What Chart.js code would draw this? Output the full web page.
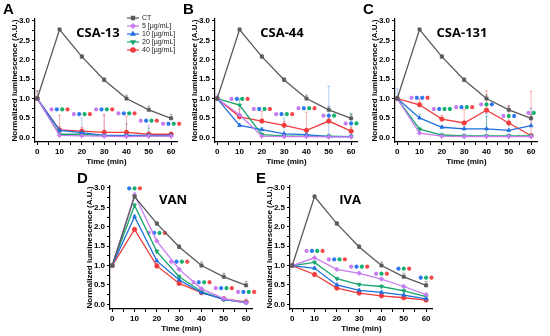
<!DOCTYPE html>
<html>
<head>
<meta charset="utf-8">
<script src="https://cdn.jsdelivr.net/npm/chart.js@4.4.0/dist/chart.umd.min.js"></script>
<style>
  body { margin: 0; width: 550px; height: 336px; background: #fff; position: relative; overflow: hidden; }
  canvas { position: absolute; }
</style>
</head>
<body>
<canvas id="pA" width="183" height="168" style="left:0px;top:0px;width:183px;height:168px"></canvas>
<canvas id="pB" width="183" height="168" style="left:180px;top:0px;width:183px;height:168px"></canvas>
<canvas id="pC" width="183" height="168" style="left:360px;top:0px;width:183px;height:168px"></canvas>
<canvas id="pD" width="183" height="168" style="left:75px;top:167px;width:183px;height:168px"></canvas>
<canvas id="pE" width="183" height="168" style="left:255px;top:167px;width:183px;height:168px"></canvas>
<script>
// Data
const times = [0, 10, 20, 30, 40, 50, 60];
const seriesLabels = ["CT", "5 [µg/mL]", "10 [µg/mL]", "20 [µg/mL]", "40 [µg/mL]"];
const xTicks = [0, 10, 20, 30, 40, 50, 60];
const yTicks = [0, 0.5, 1.0, 1.5, 2.0, 2.5, 3.0];

const ctValues = [1.0, 2.78, 2.08, 1.48, 1.0, 0.71, 0.49];
const ctErr    = [0.04, 0.03, 0.05, 0.06, 0.09, 0.09, 0.1];

// A: CSA-13
const csa13_5  = [1.0, 0.05, 0.04, 0.03, 0.02, 0.03, 0.03];
const csa13_10 = [1.0, 0.18, 0.12, 0.05, 0.05, 0.05, 0.05];
const csa13_20 = [1.0, 0.08, 0.08, 0.04, 0.04, 0.04, 0.04];
const csa13_40 = [1.0, 0.19, 0.16, 0.13, 0.13, 0.08, 0.08];
const csa13_5e  = [0.05, 0.05, 0.05, 0.55, 0.05, 0.28, 0.08];
const csa13_10e = [0.2, 0.1, 0.38, 0.1, 0.3, 0.05, 0.05];
const csa13_20e = [0.05, 0.05, 0.05, 0.05, 0.05, 0.2, 0.05];
const csa13_40e = [0.2, 0.38, 0.1, 0.45, 0.42, 0.05, 0.05];

// B: CSA-44
const csa44_5  = [1.0, 0.58, 0.03, 0.02, 0.02, 0.01, 0.01];
const csa44_10 = [1.0, 0.31, 0.2, 0.09, 0.07, 0.02, 0.02];
const csa44_20 = [1.0, 0.83, 0.07, 0.04, 0.03, 0.03, 0.02];
const csa44_40 = [1.0, 0.53, 0.42, 0.31, 0.18, 0.42, 0.16];
const csa44_5e  = [0.05, 0.15, 0.05, 0.05, 0.05, 0.05, 0.05];
const csa44_10e = [0.1, 0.05, 0.05, 0.4, 0.05, 1.3, 0.05];
const csa44_20e = [0.05, 0.15, 0.05, 0.05, 0.05, 0.05, 0.6];
const csa44_40e = [0.05, 0.2, 0.25, 0.1, 0.47, 0.15, 0.1];

// C: CSA-131
const csa131_5  = [1.0, 0.11, 0.03, 0.02, 0.02, 0.02, 0.02];
const csa131_10 = [1.0, 0.5, 0.26, 0.22, 0.22, 0.18, 0.3];
const csa131_20 = [1.0, 0.21, 0.06, 0.04, 0.04, 0.04, 0.04];
const csa131_40 = [1.0, 0.84, 0.47, 0.37, 0.7, 0.37, 0.04];
const csa131_5e  = [0.05, 0.05, 0.05, 0.05, 0.05, 0.05, 0.05];
const csa131_10e = [0.25, 0.1, 0.05, 0.05, 0.4, 0.2, 0.45];
const csa131_20e = [0.05, 0.05, 0.05, 0.05, 0.5, 0.05, 0.05];
const csa131_40e = [0.05, 0.15, 0.1, 0.35, 0.5, 0.45, 1.15];

// D: VAN
const van_5  = [1.0, 2.82, 1.63, 0.9, 0.4, 0.15, 0.04];
const van_10 = [1.0, 2.26, 1.12, 0.63, 0.3, 0.13, 0.04];
const van_20 = [1.0, 2.55, 1.36, 0.71, 0.33, 0.12, 0.05];
const van_40 = [1.0, 1.93, 0.99, 0.54, 0.3, 0.14, 0.06];
const van_5e  = [0.03, 0.06, 0.05, 0.05, 0.05, 0.05, 0.12];
const van_10e = [0.03, 0.05, 0.05, 0.05, 0.05, 0.05, 0.05];
const van_20e = [0.03, 0.05, 0.05, 0.05, 0.05, 0.05, 0.05];
const van_40e = [0.03, 0.05, 0.05, 0.05, 0.05, 0.05, 0.05];

// E: IVA
const iva_5  = [1.0, 1.2, 0.9, 0.8, 0.65, 0.46, 0.25];
const iva_10 = [1.0, 0.93, 0.5, 0.36, 0.31, 0.24, 0.14];
const iva_20 = [1.0, 1.08, 0.66, 0.51, 0.46, 0.35, 0.2];
const iva_40 = [1.0, 0.77, 0.42, 0.29, 0.22, 0.17, 0.11];
const iva_5e  = [0.03, 0.04, 0.04, 0.04, 0.04, 0.04, 0.04];
const iva_10e = [0.03, 0.04, 0.04, 0.04, 0.04, 0.04, 0.04];
const iva_20e = [0.03, 0.04, 0.04, 0.04, 0.04, 0.04, 0.04];
const iva_40e = [0.03, 0.04, 0.04, 0.04, 0.04, 0.04, 0.04];

// significance stars: [time, level, colours]
const starsA = [[10, 0.72, "vbgr"], [20, 0.6, "vbgr"], [30, 0.72, "vbgr"], [40, 0.62, "vbgr"], [50, 0.43, "vbgr"], [60, 0.35, "vbgr"]];
const starsB = [[10, 0.99, "vbgr"], [20, 0.73, "vbgr"], [30, 0.6, "vbgr"], [40, 0.75, "vbgr"], [50, 0.56, "vbg"], [60, 0.36, "vbg"]];
const starsC = [[10, 1.02, "vbbr"], [20, 0.73, "vbgg"], [30, 0.78, "vbgr"], [40, 0.85, "vgb"], [50, 0.55, "vgb"], [60, 0.63, "vg"]];
const starsD = [[10, 2.99, "bgr"], [20, 1.84, "vbgr"], [30, 1.1, "vbgr"], [40, 0.57, "vbgr"], [50, 0.42, "vbgr"], [60, 0.32, "vbgr"]];
const starsE = [[10, 1.38, "vbgr"], [20, 1.16, "vbgr"], [30, 0.97, "vbgr"], [40, 0.79, "vgr"], [50, 0.92, "bgr"], [60, 0.69, "bgr"]];

// Styles
const colors = ["#5a5a5a", "#c87cf0", "#1f6fe0", "#17a56c", "#f03c3c"];
const errColors = ["rgba(90,90,90,0.5)", "rgba(200,124,240,0.45)", "rgba(31,111,224,0.35)", "rgba(23,165,108,0.45)", "rgba(240,60,60,0.4)"];
const markers = ["rect", "rectRot", "triangle", "triangle", "circle"];
const rotations = [0, 0, 0, 180, 0];
const starColors = { v: "#c77cf2", b: "#2d78ee", g: "#13b070", r: "#f2474b" };
const FONT = "'Liberation Sans', Arial, sans-serif";

const panelPlugin = {
    id: 'panelText',
    beforeDatasetsDraw(chart) {
        const ctx = chart.ctx;
        const xs = chart.scales.x, ys = chart.scales.y;
        ctx.save();
        chart.data.datasets.forEach(ds => {
            if (!ds.errBars) return;
            ctx.strokeStyle = ds.errColor;
            ctx.lineWidth = 1;
            ds.data.forEach((p, i) => {
                const px = xs.getPixelForValue(p.x);
                const y0 = ys.getPixelForValue(p.y);
                const y1 = ys.getPixelForValue(p.y + ds.errBars[i]);
                ctx.beginPath();
                ctx.moveTo(px, y0); ctx.lineTo(px, y1);
                ctx.moveTo(px - 1.5, y1); ctx.lineTo(px + 1.5, y1);
                ctx.stroke();
            });
        });
        ctx.restore();
    },
    afterDraw(chart, args, opts) {
        const ctx = chart.ctx;
        ctx.save();
        ctx.fillStyle = "#000";
        ctx.textBaseline = "top";
        ctx.textAlign = "left";
        ctx.font = "bold 15px " + FONT;
        ctx.fillText(opts.letter, opts.letterX, opts.letterY);
        ctx.textBaseline = "middle";
        ctx.textAlign = "center";
        ctx.font = "bold 13px 'Open Sans', " + FONT;
        ctx.fillText(opts.title, opts.titleX, 33);

        if (opts.legend) {
            ctx.font = "7px " + FONT;
            ctx.textAlign = "left";
            seriesLabels.forEach((lab, i) => {
                const y = 18 + i * 8;
                ctx.strokeStyle = colors[i];
                ctx.lineWidth = 1.2;
                ctx.beginPath();
                ctx.moveTo(127, y); ctx.lineTo(139, y);
                ctx.stroke();
                ctx.fillStyle = colors[i];
                Chart.helpers.drawPoint(ctx, {
                    pointStyle: markers[i], rotation: rotations[i], radius: 2.2, borderWidth: 1
                }, 133, y);
                ctx.fillStyle = "#222";
                ctx.fillText(lab, 142, y + 0.5);
            });
        }
        ctx.restore();
    }
};

function starDatasets(stars) {
    const groups = {};
    stars.forEach(([t, lvl, cols]) => {
        const n = cols.length;
        cols.split("").forEach((c, i) => {
            (groups[c] = groups[c] || []).push({ x: t + (i - (n - 1) / 2) * 2.4, y: lvl });
        });
    });
    return Object.keys(groups).map(c => ({
        type: 'scatter',
        data: groups[c],
        pointStyle: 'star',
        pointRadius: 2.1,
        borderColor: starColors[c],
        backgroundColor: starColors[c],
        borderWidth: 1.2,
        showLine: false,
        clip: false
    }));
}

function makePanel(id, series, errs, stars, opts) {
    const all = [ctValues].concat(series);
    const allErr = [ctErr].concat(errs);
    const lines = all.map((vals, i) => ({
        label: seriesLabels[i],
        data: vals.map((v, j) => ({ x: times[j], y: v })),
        borderColor: colors[i],
        backgroundColor: colors[i],
        borderWidth: 1.3,
        pointStyle: markers[i],
        pointRotation: rotations[i],
        pointRadius: 2.2,
        pointBorderWidth: 0.8,
        tension: 0,
        errBars: allErr[i],
        errColor: errColors[i]
    }));

    const axisCommon = {
        type: 'linear',
        border: { color: '#000', width: 1.2 },
        grid: { display: true, drawOnChartArea: false, tickLength: 3, tickColor: '#000' },
        ticks: { color: '#000', font: { family: FONT, size: 8, weight: 'bold' }, autoSkip: false, maxRotation: 0, padding: 2 }
    };

    new Chart(document.getElementById(id), {
        type: 'line',
        data: { datasets: lines.concat(starDatasets(stars)) },
        plugins: [panelPlugin],
        options: {
            responsive: false,
            animation: false,
            layout: { padding: { left: 6, top: 19, right: 2, bottom: 0 } },
            plugins: {
                legend: { display: false },
                tooltip: { enabled: false },
                panelText: opts
            },
            scales: {
                x: Object.assign({}, axisCommon, {
                    min: -1, max: 63,
                    afterBuildTicks: s => { s.ticks = [0, 5, 10, 15, 20, 25, 30, 35, 40, 45, 50, 55, 60].map(v => ({ value: v })); },
                    afterFit: s => { s.height = 26; },
                    ticks: Object.assign({}, axisCommon.ticks, { callback: v => (xTicks.includes(v) ? v : '') }),
                    title: { display: true, text: 'Time (min)', color: '#000', font: { family: FONT, size: 8, weight: 'bold' }, padding: { top: 0, bottom: 1 } }
                }),
                y: Object.assign({}, axisCommon, {
                    min: -0.12, max: 3.05,
                    afterBuildTicks: s => { s.ticks = [0, 0.25, 0.5, 0.75, 1, 1.25, 1.5, 1.75, 2, 2.25, 2.5, 2.75, 3].map(v => ({ value: v })); },
                    afterFit: s => { s.width = 29; },
                    ticks: Object.assign({}, axisCommon.ticks, { callback: v => (yTicks.includes(v) ? v.toFixed(1) : '') }),
                    title: { display: true, text: 'Normalized luminescence (A.U.)', color: '#000', font: { family: FONT, size: 8, weight: 'bold' }, padding: { top: 4, bottom: 2 } }
                })
            }
        }
    });
}

makePanel('pA', [csa13_5, csa13_10, csa13_20, csa13_40], [csa13_5e, csa13_10e, csa13_20e, csa13_40e], starsA,
    { letter: 'A', letterX: 3, letterY: 2, title: 'CSA-13', titleX: 98, legend: true });
makePanel('pB', [csa44_5, csa44_10, csa44_20, csa44_40], [csa44_5e, csa44_10e, csa44_20e, csa44_40e], starsB,
    { letter: 'B', letterX: 3, letterY: 2, title: 'CSA-44', titleX: 102, legend: false });
makePanel('pC', [csa131_5, csa131_10, csa131_20, csa131_40], [csa131_5e, csa131_10e, csa131_20e, csa131_40e], starsC,
    { letter: 'C', letterX: 3, letterY: 2, title: 'CSA-131', titleX: 102, legend: false });
makePanel('pD', [van_5, van_10, van_20, van_40], [van_5e, van_10e, van_20e, van_40e], starsD,
    { letter: 'D', letterX: 2, letterY: 4, title: 'VAN', titleX: 98, legend: false });
makePanel('pE', [iva_5, iva_10, iva_20, iva_40], [iva_5e, iva_10e, iva_20e, iva_40e], starsE,
    { letter: 'E', letterX: 1, letterY: 4, title: 'IVA', titleX: 95, legend: false });
</script>
</body>
</html>
